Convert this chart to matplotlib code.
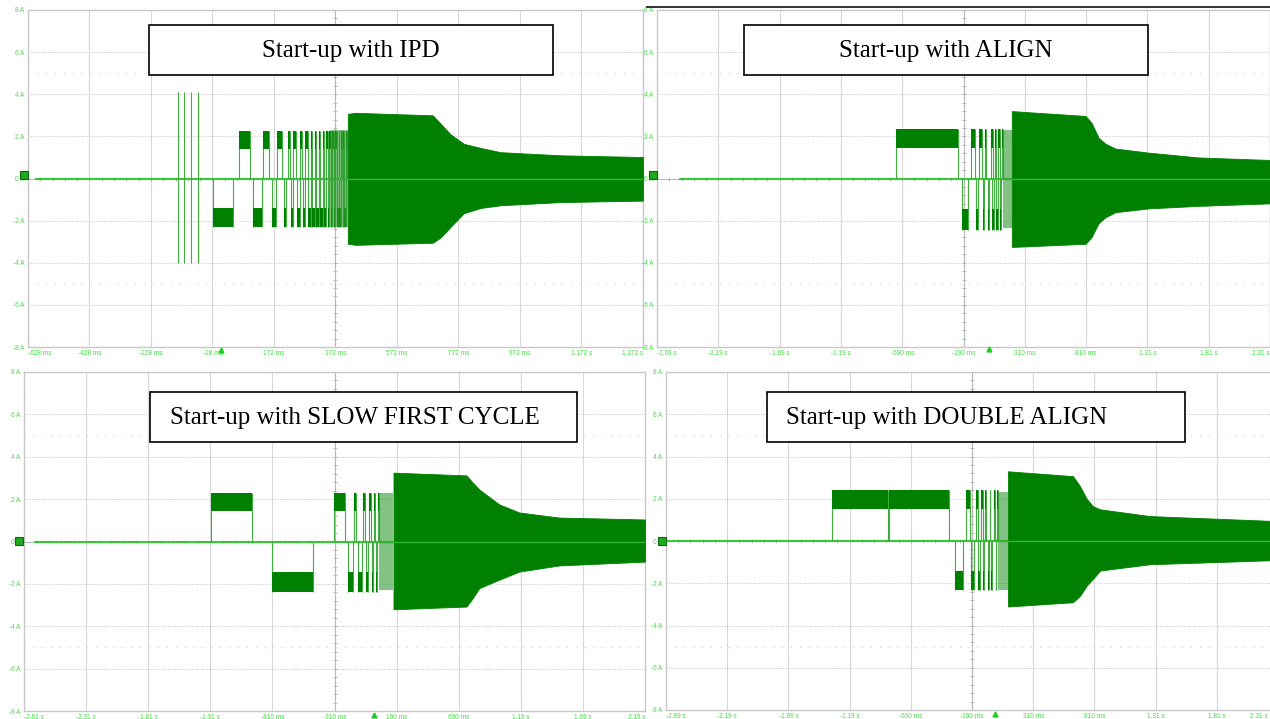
import matplotlib.pyplot as plt
from matplotlib.patches import Rectangle

W, H = 1270, 719

# ---------------- panel 1 : Start-up with IPD (time in ms, current in A) ----------------
ipd_xlim = [-628, 1372]
ipd_xticks = [-628, -428, -228, -28, 172, 372, 572, 772, 972, 1172, 1372]
ipd_xlabels = ['-628 ms', '-428 ms', '-228 ms', '-28 ms', '172 ms', '372 ms',
               '572 ms', '772 ms', '972 ms', '1.172 s', '1.372 s']
ipd_trace_start = -602
ipd_spikes = [-140, -120, -97, -74]
ipd_spike_range = [-4.0, 4.1]
ipd_levels = [1.4, 2.26, -1.4, -2.3]
ipd_pos_on = [59, 137, 183, 216, 235, 255, 274, 291, 304, 317, 330, 341, 352, 362, 372, 382, 390, 398, 406]
ipd_pos_off = [95, 157, 199, 225, 245, 264, 281, 297, 310, 323, 335, 346, 357, 367, 377, 385, 393, 401, 409]
ipd_neg_on = [-25, 105, 164, 203, 227, 247, 266, 282, 297, 310, 323, 336, 348, 357, 367, 377, 385, 395, 401]
ipd_neg_off = [40, 134, 180, 212, 235, 255, 274, 291, 304, 317, 330, 341, 352, 362, 372, 382, 390, 398, 406]
ipd_dense = [355, 412, 2.3, -2.3]
ipd_env_t = [412, 437, 688, 714, 746, 789, 844, 909, 1105, 1372]
ipd_env_hi = [3.07, 3.12, 3.0, 2.6, 2.1, 1.65, 1.45, 1.25, 1.1, 1.02]
ipd_env_lo = [-3.1, -3.15, -3.05, -2.8, -2.3, -1.65, -1.4, -1.27, -1.12, -1.05]

# ---------------- panel 2 : Start-up with ALIGN ----------------
aln_xlim = [-2690, 2310]
aln_xticks = [-2690, -2190, -1690, -1190, -690, -190, 310, 810, 1310, 1810, 2310]
aln_xlabels = ['-2.69 s', '-2.19 s', '-1.69 s', '-1.19 s', '-690 ms', '-190 ms',
               '310 ms', '810 ms', '1.31 s', '1.81 s', '2.31 s']
aln_trace_start = -2503
aln_levels = [1.45, 2.35, -1.45, -2.45]
aln_pos_on = [-739, -131, -64, -15, 31, 66, 93, 120]
aln_pos_off = [-235, -97, -42, -5, 50, 77, 104, 131]
aln_neg_on = [-200, -91, -31, 7, 39, 77, 104]
aln_neg_off = [-151, -70, -21, 17, 55, 88, 115]
aln_dense = [131, 204, 2.3, -2.35]
aln_env_t = [204, 806, 855, 912, 968, 1050, 1318, 1725, 2310]
aln_env_hi = [3.2, 2.97, 2.64, 1.93, 1.65, 1.42, 1.23, 1.0, 0.88]
aln_env_lo = [-3.25, -3.1, -2.78, -2.12, -1.84, -1.6, -1.42, -1.3, -1.18]

# ---------------- panel 3 : Start-up with SLOW FIRST CYCLE ----------------
slw_xlim = [-2810, 2190]
slw_xticks = [-2810, -2310, -1810, -1310, -810, -310, 190, 690, 1190, 1690, 2190]
slw_xlabels = ['-2.81 s', '-2.31 s', '-1.81 s', '-1.31 s', '-810 ms', '-310 ms',
               '190 ms', '690 ms', '1.19 s', '1.69 s', '2.19 s']
slw_trace_start = -2722
slw_levels = [1.45, 2.3, -1.46, -2.4]
slw_pos_on = [-1306, -318, -149, -84, -36, 8, 44]
slw_pos_off = [-977, -229, -133, -68, -20, 20, 52]
slw_neg_on = [-816, -205, -117, -60, -12, 28]
slw_neg_off = [-486, -165, -92, -44, 0, 36]
slw_dense = [52, 165, 2.3, -2.27]
slw_env_t = [165, 752, 800, 856, 1017, 1178, 1499, 2190]
slw_env_hi = [3.25, 3.12, 2.8, 2.45, 1.75, 1.37, 1.13, 1.04]
slw_env_lo = [-3.2, -3.07, -2.7, -2.2, -1.8, -1.42, -1.13, -0.95]

# ---------------- panel 4 : Start-up with DOUBLE ALIGN ----------------
dbl_xlim = [-2690, 2310]
dbl_xticks = [-2690, -2190, -1690, -1190, -690, -190, 310, 810, 1310, 1810, 2310]
dbl_xlabels = ['-2.69 s', '-2.19 s', '-1.69 s', '-1.19 s', '-690 ms', '-190 ms',
               '310 ms', '810 ms', '1.31 s', '1.81 s', '2.31 s']
dbl_trace_start = -2682
dbl_levels = [1.5, 2.42, -1.42, -2.3]
dbl_pos_on = [-1334, -868, -239, -157, -116, -80, -47, -14, 18]
dbl_pos_off = [-876, -378, -206, -145, -104, -72, -39, -6, 26]
dbl_neg_on = [-329, -198, -141, -100, -63, -31, 2]
dbl_neg_off = [-263, -174, -125, -88, -55, -23, 10]
dbl_dense = [26, 104, 2.3, -2.3]
dbl_env_t = [104, 635, 692, 749, 798, 856, 1264, 2310]
dbl_env_hi = [3.3, 3.07, 2.6, 1.98, 1.65, 1.5, 1.18, 0.94]
dbl_env_lo = [-3.1, -2.9, -2.6, -2.1, -1.8, -1.4, -1.1, -0.9]

amp_ticks = [8, 6, 4, 2, 0, -2, -4, -6, -8]
amp_labels = ['8 A', '6 A', '4 A', '2 A', '0 A', '-2 A', '-4 A', '-6 A', '-8 A']

titles = ['Start-up with IPD', 'Start-up with ALIGN',
          'Start-up with SLOW FIRST CYCLE', 'Start-up with DOUBLE ALIGN']

DARK = '#008000'
EDGE = '#3fae3f'
TRACE = '#2ccc2c'
LBL = '#44dd44'
GRID = '#d8d8d8'
FS = 4.7

fig = plt.figure(figsize=(W / 100, H / 100), dpi=100)


def px_axes(left, right, top, bottom):
    return fig.add_axes([left / W, 1 - bottom / H, (right - left) / W, (bottom - top) / H])


def draw_panel(ax, xlim, xticks, xlabels, start, levels, pos_on, pos_off,
               neg_on, neg_off, dense, env_t, env_hi, env_lo, spikes=None, spike_range=None):
    ax.set_xlim(xlim)
    ax.set_ylim(-8, 8)
    ax.set_xticks(xticks)
    ax.set_xticklabels(xlabels, fontsize=FS, color=LBL, family='Liberation Sans')
    ax.set_yticks(amp_ticks)
    ax.set_yticklabels(amp_labels, fontsize=FS, color=LBL, family='Liberation Sans')
    ax.tick_params(length=0, pad=2.5)
    xl = ax.get_xticklabels()
    xl[0].set_ha('left')
    xl[-1].set_ha('right')
    for s in ax.spines.values():
        s.set_color('#c8c8c8')
        s.set_linewidth(1.0)
    ax.set_axisbelow(True)
    ax.grid(axis='x', color=GRID, lw=0.8, ls='-')
    ax.grid(axis='y', color='#c4c4c4', lw=0.7, ls=(0, (1, 1.5)))
    for yy in (5, -5):
        ax.axhline(yy, color='#d0d0d0', lw=0.8, ls=(0, (1, 7)), zorder=0)
    # centre cross with small division marks
    mid = (xlim[0] + xlim[1]) / 2
    div = (xlim[1] - xlim[0]) / 10
    ax.axhline(0, color='#b8b8b8', lw=0.8, zorder=1)
    ax.axvline(mid, color='#b8b8b8', lw=0.8, zorder=1)
    mx = [xlim[0] + i * div / 5 for i in range(51)]
    ax.plot(mx, [0] * len(mx), ls='none', marker='|', ms=3, mew=0.6, color='#b0b0b0', zorder=1)
    my = [-8 + i * 0.4 for i in range(41)]
    ax.plot([mid] * len(my), my, ls='none', marker='_', ms=3, mew=0.6, color='#b0b0b0', zorder=1)

    # flat trace
    ax.plot([start, xlim[1]], [0, 0], color=TRACE, lw=1.4, zorder=2)
    if spikes:
        ax.vlines(spikes, spike_range[0], spike_range[1], color=EDGE, lw=0.8, zorder=3)
    p_lo, p_hi, n_lo, n_hi = levels
    for a, b in zip(pos_on, pos_off):
        ax.vlines([a, b], 0, p_hi, color=EDGE, lw=0.8, zorder=3)
        ax.fill_between([a, b], p_lo, p_hi, color=DARK, lw=0, zorder=3)
    for a, b in zip(neg_on, neg_off):
        ax.vlines([a, b], 0, n_hi, color=EDGE, lw=0.8, zorder=3)
        ax.fill_between([a, b], n_lo, n_hi, color=DARK, lw=0, zorder=3)
    ax.fill_between(dense[:2], dense[3], dense[2], color='#2f9a2f', alpha=0.6, lw=0, zorder=3)
    ax.fill_between(env_t, env_lo, env_hi, color=DARK, lw=0.6, edgecolor=DARK, zorder=4)
    ax.plot([dense[0], xlim[1]], [0, 0], color='#30b830', lw=1.0, zorder=5)


ax1 = px_axes(28, 643, 10, 347)
draw_panel(ax1, ipd_xlim, ipd_xticks, ipd_xlabels, ipd_trace_start, ipd_levels,
           ipd_pos_on, ipd_pos_off, ipd_neg_on, ipd_neg_off, ipd_dense,
           ipd_env_t, ipd_env_hi, ipd_env_lo, ipd_spikes, ipd_spike_range)

ax2 = px_axes(657, 1270, 10, 347)
draw_panel(ax2, aln_xlim, aln_xticks, aln_xlabels, aln_trace_start, aln_levels,
           aln_pos_on, aln_pos_off, aln_neg_on, aln_neg_off, aln_dense,
           aln_env_t, aln_env_hi, aln_env_lo)

ax3 = px_axes(24, 645, 372, 711)
draw_panel(ax3, slw_xlim, slw_xticks, slw_xlabels, slw_trace_start, slw_levels,
           slw_pos_on, slw_pos_off, slw_neg_on, slw_neg_off, slw_dense,
           slw_env_t, slw_env_hi, slw_env_lo)

ax4 = px_axes(666, 1278, 372, 710)
draw_panel(ax4, dbl_xlim, dbl_xticks, dbl_xlabels, dbl_trace_start, dbl_levels,
           dbl_pos_on, dbl_pos_off, dbl_neg_on, dbl_neg_off, dbl_dense,
           dbl_env_t, dbl_env_hi, dbl_env_lo)
# last label of this panel runs past the figure edge: redraw it inside
ax4.get_xticklabels()[-1].set_visible(False)

# overlay in pixel coordinates for title boxes and scope markers
ov = fig.add_axes([0, 0, 1, 1], zorder=10)
ov.set_xlim(0, W)
ov.set_ylim(H, 0)
ov.axis('off')
ov.patch.set_alpha(0)
ov.text(1268, 716.5, dbl_xlabels[-1], ha='right', va='center', fontsize=FS,
        color=LBL, family='Liberation Sans')

boxes = [(149, 25, 404, 50, 351, 'center'), (744, 25, 404, 50, 946, 'center'),
         (150, 392, 427, 50, 170, 'left'), (767, 392, 418, 50, 786, 'left')]
for (bx, by, bw, bh, tx, ha), t in zip(boxes, titles):
    ov.add_patch(Rectangle((bx, by), bw, bh, facecolor='white', edgecolor='black', lw=1.2))
    ov.text(tx, by + bh / 2 + 1, t, ha=ha, va='center', fontsize=18,
            family='Liberation Serif', color='black')

# ground markers and trigger arrows
for gx, gy in [(20, 175), (649, 175), (15, 541), (658, 541)]:
    ov.add_patch(Rectangle((gx, gy - 4), 8, 8, facecolor='#1faa1f', edgecolor='#0a6a0a', lw=0.8))
ov.plot([221, 989, 374, 995], [350, 349, 715, 714], ls='none', marker='^', ms=3.5,
        color='#1fcc1f')
ov.plot([647, 1270], [7, 7], color='#222222', lw=1.3)

fig.savefig('out.png', dpi=100, facecolor='white')
